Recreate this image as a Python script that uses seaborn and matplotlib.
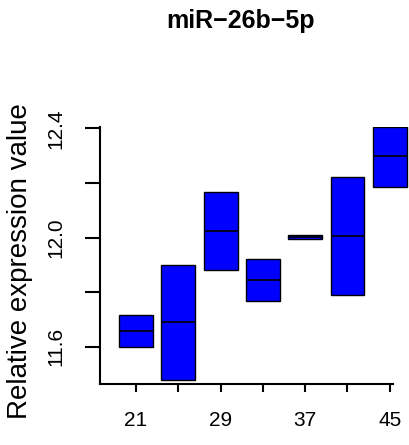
import matplotlib
matplotlib.use("Agg")
import matplotlib.pyplot as plt
import seaborn as sns
import pandas as pd

ages = ["21", "25", "29", "33", "37", "41", "45"]
box_low = [11.600, 11.478, 11.882, 11.768, 11.995, 11.791, 12.187]
box_median = [11.659, 11.690, 12.026, 11.845, 12.004, 12.006, 12.297]
box_high = [11.716, 11.899, 12.167, 11.923, 12.011, 12.223, 12.404]
xtick_labels = ["21", "", "29", "", "37", "", "45"]
ytick_values = [11.6, 11.8, 12.0, 12.2, 12.4]
ytick_labels = ["11.6", "", "12.0", "", "12.4"]

# build a table whose quartiles equal low / high and median equals median
rows = []
for a, lo, md, hi in zip(ages, box_low, box_median, box_high):
    for v in (lo, lo, md, hi, hi):
        rows.append({"age": a, "value": v})
df = pd.DataFrame(rows)

sns.set_style("ticks")
plt.rcParams["font.family"] = ["Liberation Sans", "DejaVu Sans"]
plt.rcParams["text.color"] = "black"
plt.rcParams["axes.labelcolor"] = "black"
plt.rcParams["xtick.color"] = "black"
plt.rcParams["ytick.color"] = "black"

fig = plt.figure(figsize=(4.09, 4.45), dpi=100)
ax = fig.add_axes([100 / 409, 1 - 384 / 445, 308.8 / 409, 257 / 445])

sns.boxplot(data=df, x="age", y="value", order=ages, ax=ax,
            color="#0000FF", saturation=1, width=0.8, whis=0,
            showcaps=False, showfliers=False, linecolor="black", linewidth=1.0,
            whiskerprops={"linewidth": 0},
            medianprops={"color": "black", "linewidth": 1.2})

ax.set_xlim(-0.851, 6.45)
ax.set_ylim(11.464, 12.405)
ax.spines["top"].set_visible(False)
ax.spines["right"].set_visible(False)
ax.spines["bottom"].set_bounds(-0.851, 6.076)
for s in ("left", "bottom"):
    ax.spines[s].set_linewidth(1.5)
    ax.spines[s].set_color("black")

ax.set_xticks(range(len(ages)))
ax.set_xticklabels(xtick_labels)
ax.set_yticks(ytick_values)
ax.set_yticklabels(ytick_labels, rotation=90, va="center")
ax.tick_params(axis="x", length=5.5, width=1.5, pad=14, labelsize=15,
               color="black", labelcolor="black")
ax.tick_params(axis="y", length=10.8, width=1.5, pad=14, labelsize=15,
               color="black", labelcolor="black")

ax.set_xlabel("")
ax.set_ylabel("Relative expression value", fontsize=20, color="black")
ax.yaxis.set_label_coords(-0.217, 0.48)

fig.text(240 / 409, 1 - 28 / 445, "miR\u221226b\u22125p", ha="center", va="baseline",
         fontsize=18, fontweight="bold", color="black")

fig.savefig("out.png", dpi=100)
